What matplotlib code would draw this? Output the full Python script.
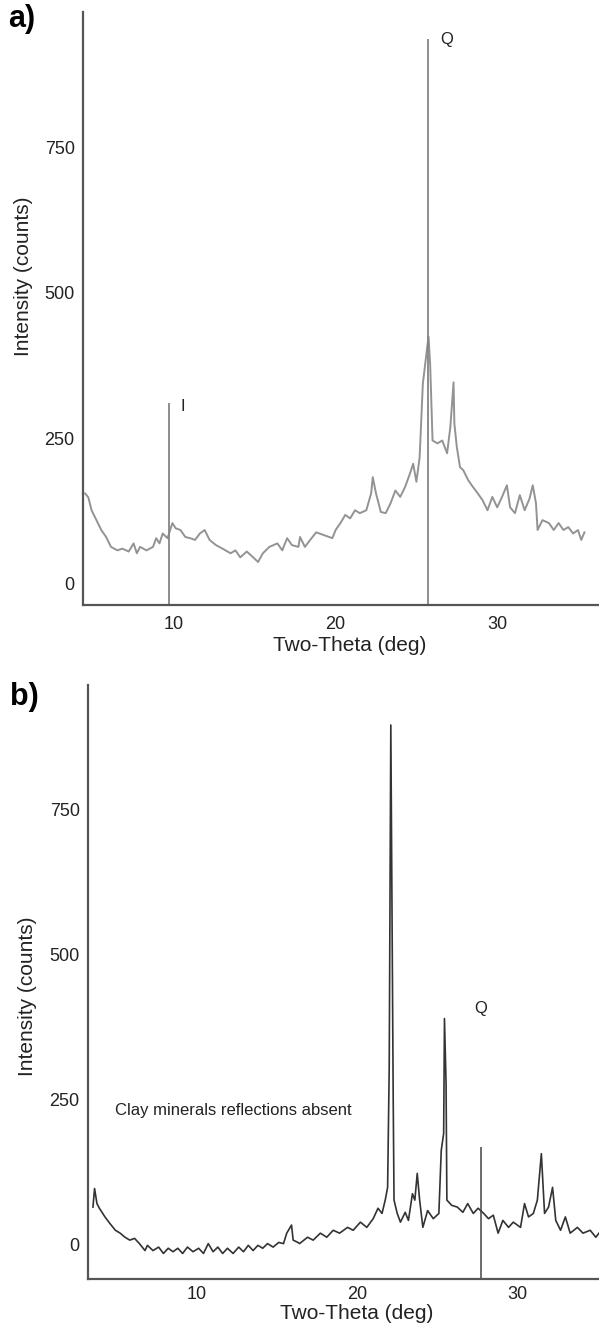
import matplotlib
matplotlib.use("Agg")
import matplotlib.pyplot as plt

# panel a: diffractogram (gray trace)
two_theta_a = [4.5, 4.7, 4.9, 5.2, 5.5, 5.8, 6.1, 6.5, 6.8, 7.2, 7.5, 7.7, 7.9, 8.3, 8.7,
               8.9, 9.1, 9.3, 9.6, 9.9, 10.1, 10.4, 10.7, 11.0, 11.3, 11.6, 11.9, 12.2, 12.6,
               13.0, 13.5, 13.8, 14.1, 14.5, 14.9, 15.2, 15.5, 15.9, 16.4, 16.7, 17.0, 17.3,
               17.7, 17.8, 18.1, 18.4, 18.8, 19.3, 19.8, 20.0, 20.3, 20.6, 20.9, 21.2, 21.5,
               21.9, 22.2, 22.3, 22.5, 22.8, 23.1, 23.4, 23.7, 24.0, 24.3, 24.6, 24.8, 25.0,
               25.2, 25.4, 25.75, 25.85, 26.0, 26.3, 26.6, 26.9, 27.1, 27.3, 27.35, 27.5, 27.7,
               27.9, 28.2, 28.5, 28.8, 29.1, 29.4, 29.7, 30.0, 30.3, 30.6, 30.8, 31.1, 31.4,
               31.7, 32.0, 32.2, 32.4, 32.5, 32.8, 33.2, 33.5, 33.8, 34.1, 34.4, 34.7, 35.0,
               35.2, 35.4]
counts_a = [155, 148, 126, 109, 92, 80, 63, 57, 60, 55, 69, 52, 63, 57, 63,
            78, 69, 86, 78, 104, 95, 92, 80, 78, 75, 86, 92, 75, 66,
            60, 52, 57, 45, 55, 45, 37, 52, 63, 69, 57, 78, 66,
            63, 80, 63, 74, 88, 83, 78, 92, 104, 118, 112, 126, 121,
            126, 155, 183, 155, 123, 121, 138, 160, 149, 166, 189, 206, 175,
            217, 344, 425, 378, 246, 241, 246, 224, 269, 346, 275, 235, 200,
            195, 178, 166, 155, 143, 126, 149, 131, 149, 169, 131, 121, 152,
            126, 146, 169, 138, 92, 109, 104, 92, 104, 92, 97, 86, 92,
            75, 88]
ref_lines_a = [9.7, 25.7]
ref_heights_a = [310, 936]
labels_a = ["I", "Q"]
label_pos_a = [(10.4, 305), (26.5, 935)]

# panel b: diffractogram (dark trace)
two_theta_b = [3.5, 3.6, 3.75, 3.9, 4.25, 4.55, 4.9, 5.2, 5.5, 5.8, 6.1, 6.4, 6.75, 6.9, 7.25,
               7.6, 7.9, 8.2, 8.5, 8.8, 9.1, 9.4, 9.75, 10.1, 10.4, 10.7, 11.0, 11.3, 11.6,
               11.9, 12.25, 12.6, 12.9, 13.2, 13.5, 13.8, 14.1, 14.4, 14.75, 15.1, 15.4, 15.6,
               15.9, 16.0, 16.3, 16.4, 16.9, 17.25, 17.7, 18.1, 18.5, 18.9, 19.4, 19.75, 20.2,
               20.6, 21.0, 21.3, 21.55, 21.75, 21.9, 22.0, 22.1, 22.25, 22.3, 22.5, 22.7, 23.0,
               23.2, 23.45, 23.6, 23.75, 23.9, 24.1, 24.4, 24.75, 25.1, 25.25, 25.4, 25.45,
               25.55, 25.6, 25.9, 26.25, 26.6, 26.9, 27.25, 27.55, 27.9, 28.2, 28.5, 28.8,
               29.1, 29.45, 29.75, 30.2, 30.45, 30.7, 31.0, 31.25, 31.5, 31.7, 31.95, 32.2,
               32.4, 32.7, 33.0, 33.3, 33.75, 34.1, 34.55, 34.9, 35.1]
counts_b = [65, 97, 71, 63, 48, 37, 25, 20, 13, 8, 11, 2, -10, -1, -10,
            -4, -15, -6, -12, -6, -15, -4, -12, -6, -15, 2, -12, -4, -15,
            -6, -15, -4, -12, -1, -10, -1, -6, 2, -4, 4, 2, 20,
            34, 8, 4, 2, 13, 8, 20, 13, 25, 20, 30, 25, 39,
            30, 45, 63, 54, 77, 99, 306, 896, 249, 77, 54, 39, 56,
            42, 88, 77, 123, 77, 30, 59, 45, 54, 163, 192, 390,
            278, 77, 68, 65, 56, 71, 54, 63, 54, 45, 51, 20,
            42, 30, 39, 30, 71, 48, 54, 77, 157, 54, 65, 99,
            42, 25, 48, 20, 30, 20, 25, 13, 20]
ref_lines_b = [27.75]
ref_heights_b = [168]
labels_b = ["Q"]
label_pos_b = [(27.7, 408)]
note_b = "Clay minerals reflections absent"
note_pos_b = (4.9, 232)

y_ticks = [0, 250, 500, 750]
x_ticks = [10, 20, 30]

plt.rcParams["font.family"] = ["Liberation Sans", "DejaVu Sans"]

SPINE = "#555555"


def style_axes(ax, xlim, ylim, tick_pad_x):
    ax.set_xlim(*xlim)
    ax.set_ylim(*ylim)
    ax.set_xticks(x_ticks)
    ax.set_yticks(y_ticks)
    ax.tick_params(axis="both", length=0, labelsize=13, colors="#222222")
    ax.tick_params(axis="y", pad=6)
    ax.tick_params(axis="x", pad=tick_pad_x)
    for side in ("top", "right"):
        ax.spines[side].set_visible(False)
    for side in ("left", "bottom"):
        ax.spines[side].set_color(SPINE)
        ax.spines[side].set_linewidth(1.6)
    ax.set_xlabel("Two-Theta (deg)", fontsize=15, color="#222222")
    ax.set_ylabel("Intensity (counts)", fontsize=15, color="#222222")


fig = plt.figure(figsize=(5.99, 13.35), dpi=100)

ax_a = fig.add_axes([0.1386, 0.5468, 0.8614, 0.4442])
ax_a.plot(two_theta_a, counts_a, color="#939393", linewidth=1.4)
ylim_a = (-37, 983)
ax_a.vlines(ref_lines_a, ylim_a[0], ref_heights_a, color="#858585", linewidth=1.3)
for text, (x, y) in zip(labels_a, label_pos_a):
    ax_a.text(x, y, text, fontsize=12, ha="left", va="center", color="#222222")
style_axes(ax_a, (4.37, 36.3), ylim_a, 8)
ax_a.xaxis.set_label_coords(0.517, -0.052)
ax_a.yaxis.set_label_coords(-0.097, 0.555)

ax_b = fig.add_axes([0.1469, 0.04195, 0.8531, 0.44495])
ax_b.plot(two_theta_b, counts_b, color="#333333", linewidth=1.2)
ylim_b = (-59, 965)
ax_b.vlines(ref_lines_b, ylim_b[0], ref_heights_b, color="#444444", linewidth=1.1)
for text, (x, y) in zip(labels_b, label_pos_b):
    ax_b.text(x, y, text, fontsize=12, ha="center", va="center", color="#222222")
ax_b.text(note_pos_b[0], note_pos_b[1], note_b, fontsize=12, ha="left", va="center",
          color="#222222")
style_axes(ax_b, (3.19, 35.1), ylim_b, 5)
ax_b.xaxis.set_label_coords(0.525, -0.042)
ax_b.yaxis.set_label_coords(-0.1, 0.476)

fig.text(0.013, 0.997, "a)", fontsize=22, fontweight="bold", va="top", ha="left")
fig.text(0.016, 0.489, "b)", fontsize=22, fontweight="bold", va="top", ha="left")

fig.savefig("out.png", dpi=100)
